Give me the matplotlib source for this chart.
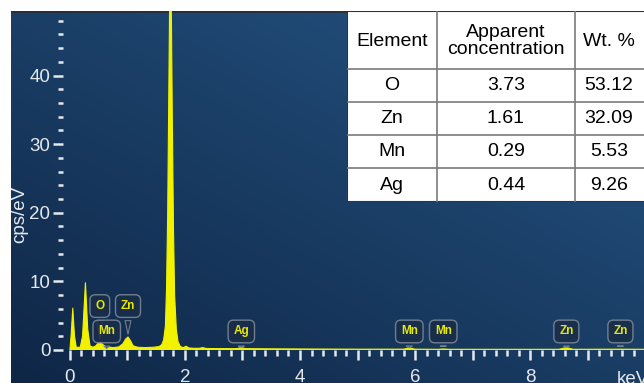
import numpy as np
import matplotlib
matplotlib.use("Agg")
import matplotlib.pyplot as plt
from matplotlib.patches import Rectangle
from matplotlib.ticker import MultipleLocator, FuncFormatter

plt.rcParams['font.family'] = ['Liberation Sans', 'DejaVu Sans']

# spectrum outline (keV, cps/eV)
energy_kev = [0.00, 0.02, 0.05, 0.08, 0.11, 0.18, 0.22, 0.27, 0.31, 0.35,
              0.40, 0.45, 0.50, 0.53, 0.57, 0.62, 0.66, 0.75, 0.85, 0.92,
              0.97, 1.01, 1.05, 1.10, 1.18, 1.30, 1.45, 1.55, 1.60, 1.63,
              1.66, 1.68, 1.70, 1.72, 1.735, 1.75, 1.765, 1.78, 1.80, 1.82,
              1.85, 1.88, 1.92, 1.97, 2.02, 2.07, 2.15, 2.25, 2.31, 2.37,
              2.60, 2.90, 2.98, 3.05, 3.30, 4.00, 5.00, 5.80, 5.90, 6.00,
              6.40, 6.49, 6.60, 8.50, 8.63, 8.75, 9.57, 10.0]
cps = [0.0, 2.0, 6.1, 2.0, 0.4, 0.4, 2.0, 9.8, 3.0, 0.6,
       0.4, 0.6, 1.1, 1.2, 0.8, 0.5, 0.45, 0.35, 0.45, 0.9,
       1.6, 1.9, 1.4, 0.6, 0.4, 0.35, 0.4, 0.5, 0.8, 1.5,
       3.5, 9.0, 20.0, 38.0, 52.0, 60.0, 48.0, 34.0, 18.0, 8.0,
       3.0, 1.2, 0.5, 0.35, 0.55, 0.3, 0.25, 0.25, 0.35, 0.22,
       0.2, 0.2, 0.35, 0.2, 0.18, 0.15, 0.12, 0.12, 0.3, 0.12,
       0.1, 0.15, 0.1, 0.1, 0.35, 0.1, 0.12, 0.1]

# element markers
marker_names = ['O', 'Mn', 'Zn', 'Ag', 'Mn', 'Mn', 'Zn', 'Zn']
marker_kev = [0.52, 0.64, 1.01, 2.98, 5.90, 6.49, 8.63, 9.57]
marker_tip = [1.2, 0.2, 1.9, 0.35, 0.3, 0.15, 0.35, 0.12]
marker_high = [True, False, True, False, False, False, False, False]

# quantification table
elements = ['O', 'Zn', 'Mn', 'Ag']
apparent = ['3.73', '1.61', '0.29', '0.44']
wt_pct = ['53.12', '32.09', '5.53', '9.26']

W, H = 644, 383
fig = plt.figure(figsize=(W / 100, H / 100), dpi=100)
fig.patch.set_facecolor('white')

# gradient panel
bg = fig.add_axes([11 / W, 0, (W - 11) / W, (H - 11) / H])
gx, gy = np.meshgrid(np.linspace(0, 1, 200), np.linspace(0, 1, 200))
t = np.clip(0.55 * gx + 0.6 * gy, 0, 1)
c0 = np.array([0x0f, 0x26, 0x46]) / 255
c1 = np.array([0x22, 0x4f, 0x7c]) / 255
img = c0[None, None, :] * (1 - t[..., None]) + c1[None, None, :] * t[..., None]
bg.imshow(img, origin='lower', aspect='auto', extent=[0, 1, 0, 1])
bg.axhline(1, color='#2a2f36', lw=2)
bg.set_axis_off()

# spectrum axes
ax = fig.add_axes([63 / W, (H - 350) / H, (W - 63) / W, (350 - 11) / H])
ax.set_facecolor('none')
ax.fill_between(energy_kev, cps, 0, color='#f2f200', lw=0)
ax.plot(energy_kev, cps, color='#f2f200', lw=0.8)
ax.set_xlim(-0.12, 9.98)
ax.set_ylim(0, 49.4)
for s in ax.spines.values():
    s.set_visible(False)

tc = '#e4e9ee'
ax.xaxis.set_major_locator(MultipleLocator(1))
ax.xaxis.set_minor_locator(MultipleLocator(0.2))
ax.xaxis.set_major_formatter(FuncFormatter(lambda v, p: '%d' % v if int(round(v)) % 2 == 0 and v < 9.5 else ''))
ax.yaxis.set_major_locator(MultipleLocator(10))
ax.yaxis.set_minor_locator(MultipleLocator(2))
ax.tick_params(axis='x', which='major', length=7.5, width=1.8, color=tc,
               labelcolor=tc, labelsize=13.5, pad=6.5)
ax.tick_params(axis='x', which='minor', length=4, width=1.8, color=tc)
ax.tick_params(axis='y', which='major', length=7.5, width=1.8, color=tc,
               labelcolor=tc, labelsize=13.5, pad=1.5)
ax.tick_params(axis='y', which='minor', length=3.6, width=1.8, color=tc)

for name, e, tip, high in zip(marker_names, marker_kev, marker_tip, marker_high):
    ax.annotate(name, xy=(e, tip), xytext=(e, 6.4 if high else 2.7),
                ha='center', va='center', fontsize=8.5, fontweight='bold',
                color='#e8e800',
                bbox=dict(boxstyle='round,pad=0.45', fc='#1a2d48', ec='#7f8c9b',
                          lw=1, alpha=0.85),
                arrowprops=dict(arrowstyle='wedge,tail_width=0.5,shrink_factor=0.5',
                                fc='#1a2d48', ec='#7f8c9b', lw=0.8, alpha=0.85))

fig.text(20 / W, 1 - 214 / H, 'cps/eV', rotation=90, ha='center', va='center',
         color=tc, fontsize=13.5)
fig.text(617 / W, 1 - 380 / H, 'keV', ha='left', va='center', color=tc, fontsize=13.5)

# table
tb = fig.add_axes([347 / W, (H - 202) / H, (650 - 347) / W, (202 - 11) / H])
tb.set_xlim(347, 650)
tb.set_ylim(202, 11)
tb.set_axis_off()
tb.add_patch(Rectangle((347, 11), 303, 191, fc='white', ec='#333333', lw=1.5))
cols = [347, 437, 575, 650]
rows = [11, 69, 102, 135, 168, 202]
for x in cols[1:-1]:
    tb.plot([x, x], [rows[0], rows[-1]], color='#7a7a7a', lw=1.2)
for y in rows[1:-1]:
    tb.plot([cols[0], cols[-1]], [y, y], color='#7a7a7a', lw=1.2)
fs = 14
tb.text((cols[0] + cols[1]) / 2, 41, 'Element', ha='center', va='center', fontsize=fs)
tb.text((cols[1] + cols[2]) / 2, 41, 'Apparent\nconcentration', ha='center',
        va='center', fontsize=fs, linespacing=1.05)
tb.text(609, 41, 'Wt. %', ha='center', va='center', fontsize=fs)
for i, (el, ap, wt) in enumerate(zip(elements, apparent, wt_pct)):
    yc = (rows[i + 1] + rows[i + 2]) / 2
    tb.text((cols[0] + cols[1]) / 2, yc, el, ha='center', va='center', fontsize=fs)
    tb.text((cols[1] + cols[2]) / 2, yc, ap, ha='center', va='center', fontsize=fs)
    tb.text(609, yc, wt, ha='center', va='center', fontsize=fs)

fig.savefig('out.png', dpi=100)
